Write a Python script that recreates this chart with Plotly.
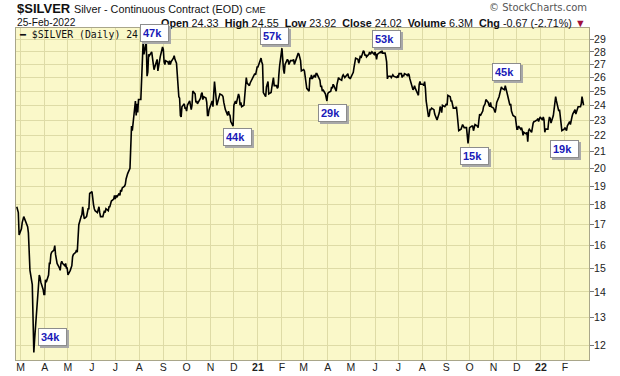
import numpy as np
import pandas as pd
import plotly.graph_objects as go

# ---------------- data (daily closes) ----------------
v2020_02 = [17.9, 17.8, 17.6, 16.5]
v2020_03 = [16.8, 17.1, 17.3, 17.4, 17.3, 17.0, 16.9, 16.6, 15.9, 14.9, 14.3, 12.8, 11.75, 12.2, 12.6, 13.9, 14.4, 14.7, 14.6, 14.4, 14.1, 13.9]
v2020_04 = [13.9, 14.5, 14.4, 14.7, 15.2, 15.2, 15.6, 15.7, 15.8, 16.0, 15.6, 15.4, 15.2, 15.0, 14.9, 15.2, 15.3, 15.2, 15.1, 15.2, 15.0, 15.0]
v2020_05 = [14.7, 14.9, 15.0, 15.1, 15.5, 15.6, 15.7, 15.8, 15.7, 16.2, 17.0, 17.4, 17.5, 17.9, 17.4, 17.3, 17.4, 17.6, 17.8, 17.8, 18.6]
v2020_06 = [18.7, 18.2, 18.0, 17.8, 17.7, 17.6, 17.7, 17.9, 17.6, 17.4, 17.4, 17.6, 17.7, 17.6, 17.8, 17.7, 17.9, 17.9, 18.0, 18.2, 18.3, 18.5]
v2020_07 = [18.3, 18.5, 18.4, 18.6, 18.5, 18.8, 18.7, 18.9, 19.0, 19.1, 19.4, 19.6, 19.7, 20.0, 21.2, 22.6, 22.3, 22.7, 24.3, 23.3, 24.1, 23.5, 24.4]
v2020_08 = [24.4, 25.8, 27.3, 28.9, 27.8, 28.8, 26.1, 26.4, 27.8, 27.7, 28.0, 27.6, 27.0, 26.6, 26.8, 27.4, 26.5, 27.0, 27.3, 27.6, 28.4]
v2020_09 = [28.2, 27.2, 27.0, 27.3, 27.2, 27.0, 27.3, 27.0, 27.2, 27.5, 27.7, 27.4, 27.2, 27.1, 24.6, 24.5, 23.3, 23.2, 23.9, 24.1, 23.8, 23.8]
v2020_10 = [23.6, 24.0, 24.3, 23.8, 23.7, 24.0, 25.0, 24.8, 24.2, 24.3, 24.1, 24.2, 24.5, 24.8, 24.9, 24.4, 24.6, 24.5, 24.2, 23.3, 23.3, 23.7]
v2020_11 = [24.1, 24.3, 23.9, 25.5, 25.7, 24.0, 24.2, 24.3, 24.4, 24.8, 24.7, 24.6, 24.2, 23.9, 23.7, 23.3, 23.6, 23.4, 23.3, 22.9, 22.6]
v2020_12 = [24.0, 24.1, 24.3, 24.1, 24.8, 24.6, 24.0, 24.2, 23.9, 24.0, 24.7, 25.3, 26.0, 25.6, 25.4, 25.6, 25.7, 25.9, 25.9, 26.3, 26.2, 26.5, 26.8]
v2021_01 = [26.8, 27.3, 27.5, 27.2, 27.0, 24.9, 24.6, 25.3, 25.5, 25.7, 24.8, 24.9, 25.3, 25.6, 26.0, 25.4, 25.4, 25.2, 25.3, 26.2, 26.9]
v2021_02 = [28.3, 26.8, 26.6, 26.3, 27.0, 27.4, 27.3, 27.0, 27.1, 27.3, 27.3, 27.4, 27.0, 27.2, 27.3, 27.9, 27.8, 27.6, 27.3, 26.5]
v2021_03 = [26.6, 26.5, 26.0, 25.3, 25.2, 25.0, 26.0, 25.9, 26.2, 25.9, 26.2, 26.0, 26.3, 26.3, 26.2, 25.8, 25.3, 25.4, 25.0, 25.1, 24.8, 24.6, 24.3]
v2021_04 = [24.8, 24.9, 25.0, 25.3, 25.2, 25.5, 25.4, 25.0, 25.5, 25.7, 26.0, 25.9, 25.8, 26.1, 26.2, 26.1, 26.0, 26.2, 26.3, 26.0, 26.0, 25.9]
v2021_05 = [26.2, 26.4, 26.8, 27.3, 27.5, 27.4, 27.1, 27.3, 27.7, 27.5, 28.1, 28.0, 27.7, 27.8, 27.6, 27.8, 28.0, 27.8, 27.9, 28.0, 27.8]
v2021_06 = [28.0, 27.8, 27.4, 27.8, 27.9, 28.0, 27.9, 28.1, 27.9, 27.9, 27.6, 27.2, 25.9, 26.1, 26.1, 26.0, 26.1, 26.2, 26.1, 26.0, 26.0, 26.1]
v2021_07 = [26.0, 26.3, 26.3, 26.0, 26.2, 26.1, 26.3, 26.2, 26.1, 26.3, 26.2, 25.9, 25.3, 25.1, 25.2, 25.4, 25.2, 24.8, 24.7, 25.5, 25.7, 25.5]
v2021_08 = [25.5, 25.4, 25.7, 25.2, 24.3, 23.2, 23.3, 23.7, 23.7, 23.8, 23.7, 23.4, 23.3, 23.1, 23.0, 23.5, 23.9, 23.8, 23.5, 24.0, 23.9, 24.0]
v2021_09 = [24.1, 24.0, 24.7, 24.6, 24.3, 24.3, 24.0, 23.8, 23.8, 23.9, 23.4, 22.4, 22.3, 22.4, 22.6, 22.7, 22.6, 22.5, 22.5, 22.1, 21.5, 22.0]
v2021_10 = [22.5, 22.6, 22.6, 22.3, 22.5, 22.7, 22.6, 22.5, 23.0, 23.4, 23.3, 23.6, 23.9, 24.0, 24.1, 24.4, 24.2, 24.0, 23.9, 24.2, 23.9]
v2021_11 = [23.8, 23.6, 23.5, 23.8, 24.2, 24.6, 24.8, 25.2, 25.3, 25.2, 25.1, 25.4, 25.1, 25.0, 24.7, 24.0, 24.1, 23.6, 23.5, 23.3, 23.2, 22.9]
v2021_12 = [22.4, 22.4, 22.6, 22.4, 22.5, 22.3, 22.0, 22.2, 22.1, 22.2, 21.6, 22.3, 22.4, 22.2, 22.6, 22.8, 22.9, 22.9, 23.0, 23.1, 22.9, 23.1, 23.2]
v2022_01 = [23.0, 23.2, 23.0, 22.2, 22.4, 22.4, 22.9, 23.2, 23.1, 22.8, 23.3, 23.8, 24.2, 24.6, 24.3, 23.6, 23.7, 23.2, 22.8, 22.3, 22.4]
v2022_02 = [22.5, 22.4, 22.3, 22.6, 22.9, 22.7, 23.1, 23.2, 23.4, 23.7, 23.4, 23.6, 23.8, 23.9, 23.9, 24.1, 24.6, 24.2, 24.0]

months = [(2020, 2, v2020_02), (2020, 3, v2020_03), (2020, 4, v2020_04), (2020, 5, v2020_05),
          (2020, 6, v2020_06), (2020, 7, v2020_07), (2020, 8, v2020_08), (2020, 9, v2020_09),
          (2020, 10, v2020_10), (2020, 11, v2020_11), (2020, 12, v2020_12), (2021, 1, v2021_01),
          (2021, 2, v2021_02), (2021, 3, v2021_03), (2021, 4, v2021_04), (2021, 5, v2021_05),
          (2021, 6, v2021_06), (2021, 7, v2021_07), (2021, 8, v2021_08), (2021, 9, v2021_09),
          (2021, 10, v2021_10), (2021, 11, v2021_11), (2021, 12, v2021_12), (2022, 1, v2022_01),
          (2022, 2, v2022_02)]

# x-axis month ticks
month_ticks = ["2020-03-01", "2020-04-01", "2020-05-01", "2020-06-01", "2020-07-01", "2020-08-01",
               "2020-09-01", "2020-10-01", "2020-11-01", "2020-12-01", "2021-01-01", "2021-02-01",
               "2021-03-01", "2021-04-01", "2021-05-01", "2021-06-01", "2021-07-01", "2021-08-01",
               "2021-09-01", "2021-10-01", "2021-11-01", "2021-12-01", "2022-01-01", "2022-02-01"]
month_labels = ["M", "A", "M", "J", "J", "A", "S", "O", "N", "D", "<b>21</b>", "F",
                "M", "A", "M", "J", "J", "A", "S", "O", "N", "D", "<b>22</b>", "F"]
y_ticks = list(range(12, 30))

# volume annotations
box_labels = ["34k", "47k", "57k", "44k", "29k", "53k", "45k", "15k", "19k"]
box_dates = ["2020-04-11", "2020-08-20", "2021-01-22", "2020-12-06", "2021-04-07",
             "2021-06-16", "2021-11-17", "2021-10-07", "2022-01-31"]
box_values = [12.3, 29.6, 29.3, 21.9, 23.45, 29.1, 26.4, 20.75, 21.15]

# ---------------- build series ----------------
FIRST = pd.Timestamp("2020-02-25")
LAST = pd.Timestamp("2022-02-25")
dates, closes = [], []
for y, m, vals in months:
    ms = pd.Timestamp(year=y, month=m, day=1)
    me = ms + pd.offsets.MonthEnd(0)
    bd = pd.bdate_range(max(ms, FIRST), min(me, LAST))
    if len(bd) != len(vals):
        idx = np.linspace(0, len(bd) - 1, len(vals)).round().astype(int)
        bd = bd[idx]
    dates.extend(list(bd))
    closes.extend(vals)

# ---------------- figure ----------------
W, H = 620, 376
L, R, T, B = 16, 31, 28, 16
PW, PH = W - L - R, H - T - B


def px(x):
    return (x - L) / PW


def py(y):
    return (H - B - y) / PH


BG = "#FAF8C9"
GRID = "#DEDBA6"

fig = go.Figure()
fig.add_trace(go.Scatter(x=dates, y=closes, mode="lines",
                         line=dict(color="black", width=1.6), hoverinfo="skip",
                         showlegend=False))

fig.update_layout(
    width=W, height=H,
    margin=dict(l=L, r=R, t=T, b=B, pad=0),
    paper_bgcolor="white", plot_bgcolor=BG,
    font=dict(family="Arial, Liberation Sans, sans-serif", size=10, color="#222"),
    showlegend=False,
)
fig.update_xaxes(
    type="date", range=["2020-02-24", "2022-03-04"],
    tickvals=month_ticks, ticktext=month_labels, tickangle=0,
    showgrid=True, gridcolor=GRID, gridwidth=1,
    showline=True, linecolor="#A9A68A", linewidth=1, mirror=True,
    ticks="", tickfont=dict(size=10.5, color="#222"), automargin=False,
    ticklabelstandoff=-3, zeroline=False,
)
fig.update_yaxes(
    type="log", range=[np.log10(11.5), np.log10(30.0)],
    side="right", tickvals=y_ticks, ticktext=[str(v) for v in y_ticks],
    showgrid=True, gridcolor=GRID, gridwidth=1,
    showline=True, linecolor="#A9A68A", linewidth=1, mirror=True,
    ticks="outside", ticklen=4, tickcolor="#777", tickwidth=1,
    tickfont=dict(size=10.5, color="#222"), automargin=False, zeroline=False,
    ticklabelstandoff=-2,
)

ann = []
# header
ann.append(dict(xref="paper", yref="paper", x=px(15), y=py(9), xanchor="left", yanchor="middle",
                text="<b>$SILVER</b>", showarrow=False,
                font=dict(size=13, color="#111", family="Arial, Liberation Sans")))
ann.append(dict(xref="paper", yref="paper", x=px(72), y=py(9.5), xanchor="left", yanchor="middle",
                text="Silver - Continuous Contract (EOD) <span style='font-size:9px'>CME</span>",
                showarrow=False, font=dict(size=10.8, color="#111", family="Arial, Liberation Sans")))
ann.append(dict(xref="paper", yref="paper", x=px(15), y=py(22.5), xanchor="left", yanchor="middle",
                text="25-Feb-2022", showarrow=False,
                font=dict(size=10.2, color="#111", family="Arial, Liberation Sans")))
ann.append(dict(xref="paper", yref="paper", x=px(588), y=py(22.5), xanchor="right", yanchor="middle",
                text=("<b>Open</b> 24.33  <b>High</b> 24.55  <b>Low</b> 23.92  <b>Close</b> 24.02  "
                      "<b>Volume</b> 6.3M  <b>Chg</b> -0.67 (-2.71%) <span style='color:#A0103C'>▼</span>"),
                showarrow=False, font=dict(size=10.8, color="#111", family="Arial, Liberation Sans")))
ann.append(dict(xref="paper", yref="paper", x=px(589), y=py(7.5), xanchor="right", yanchor="middle",
                text="© StockCharts.com", showarrow=False,
                font=dict(size=10, color="#555", family="DejaVu Sans, Arial")))
# in-plot legend
ann.append(dict(xref="paper", yref="paper", x=px(17), y=py(34), xanchor="left", yanchor="middle",
                text="<b>━</b> $SILVER (Daily) 24.02", showarrow=False,
                font=dict(size=9.8, color="#111", family="DejaVu Sans Mono, monospace")))

# volume boxes (shadow + box)
for lab, d, v in zip(box_labels, box_dates, box_values):
    common = dict(xref="x", yref="y", x=d, y=np.log10(v), xanchor="center", yanchor="middle",
                  showarrow=False, width=23, height=12, borderpad=2, borderwidth=1, align="left",
                  valign="middle")
    ann.append(dict(**common, text=" ", bgcolor="#A8A8A8", bordercolor="#A8A8A8",
                    xshift=2, yshift=-2,
                    font=dict(size=11, color="#A8A8A8", family="Arial, Liberation Sans")))
    ann.append(dict(**common, text="<b>%s</b>" % lab, bgcolor="white", bordercolor="#8C8C8C",
                    font=dict(size=11, color="#1A1AB8", family="Arial, Liberation Sans")))

fig.update_layout(annotations=ann)
fig.write_html("out.html", config={"displayModeBar": False},
               post_script="document.body.style.margin='0';document.body.style.overflow='hidden';")
